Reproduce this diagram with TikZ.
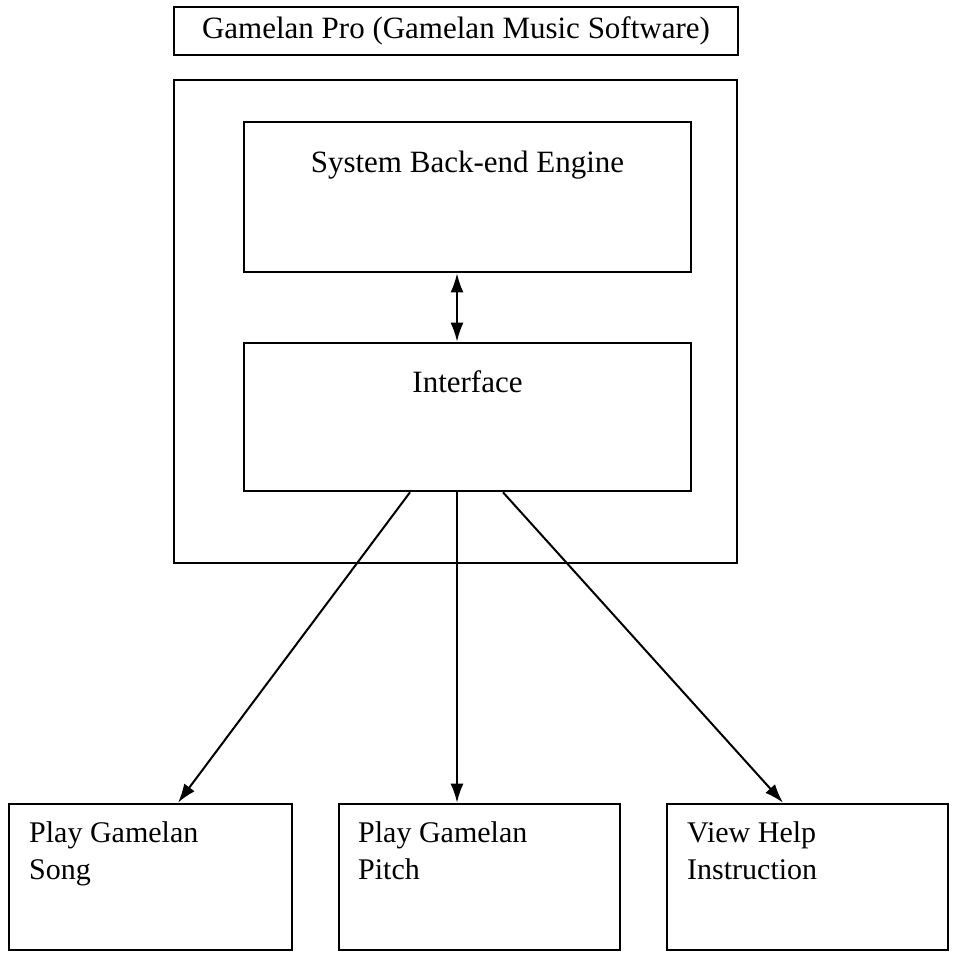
\documentclass[tikz,border=0pt]{standalone}
\usepackage{fontspec}
\setmainfont{Liberation Serif}
\usetikzlibrary{arrows.meta}
\begin{document}
\begin{tikzpicture}[x=1pt,y=-1pt,
  box/.style={draw, line width=2.6pt, inner sep=0pt},
  arr/.style={line width=2pt, -{Latex[length=19pt,width=13pt]}},
  darr/.style={line width=2pt, {Latex[length=19pt,width=13pt]}-{Latex[length=19pt,width=13pt]}},
  big/.style={inner sep=0pt, font=\fontsize{31}{36}\selectfont},
  small/.style={inner sep=0pt, align=left, anchor=base west, font=\fontsize{30}{37}\selectfont}]
\useasboundingbox (0,0) rectangle (954,956);
\node[box, big, inner sep=0pt, minimum width=564pt, minimum height=48pt] (title) at (456,31) {Gamelan Pro (Gamelan Music Software)};
\node[box, minimum width=563pt, minimum height=483pt] (outer) at (455.5,321.5) {};
\node[box, minimum width=447pt, minimum height=150pt] (sys) at (467.5,197) {};
\node[box, minimum width=447pt, minimum height=148pt] (intf) at (467.5,417) {};
\node[box, minimum width=283pt, minimum height=146pt] (b1) at (150.5,877) {};
\node[box, minimum width=281pt, minimum height=146pt] (b2) at (479.5,877) {};
\node[box, minimum width=281pt, minimum height=146pt] (b3) at (807.5,877) {};
\node[big, anchor=base] (sysT) at (467.5,172) {System Back-end Engine};
\node[big, anchor=base] (intfT) at (467.5,392) {Interface};
\node[small] (b1T) at (29,879) {Play Gamelan\\Song};
\node[small] (b2T) at (358,879) {Play Gamelan\\Pitch};
\node[small] (b3T) at (687,879) {View Help\\Instruction};
\coordinate (mid) at (457,0);
\draw[darr] (sys.south -| mid) -- (intf.north -| mid);
\draw[arr] ([xshift=-57.5pt]intf.south) -- ([xshift=27.5pt]b1.north);
\draw[arr] (intf.south -| mid) -- ([xshift=-22.5pt]b2.north);
\draw[arr] ([xshift=35.5pt]intf.south) -- ([xshift=-24.5pt]b3.north);
\end{tikzpicture}
\end{document}
